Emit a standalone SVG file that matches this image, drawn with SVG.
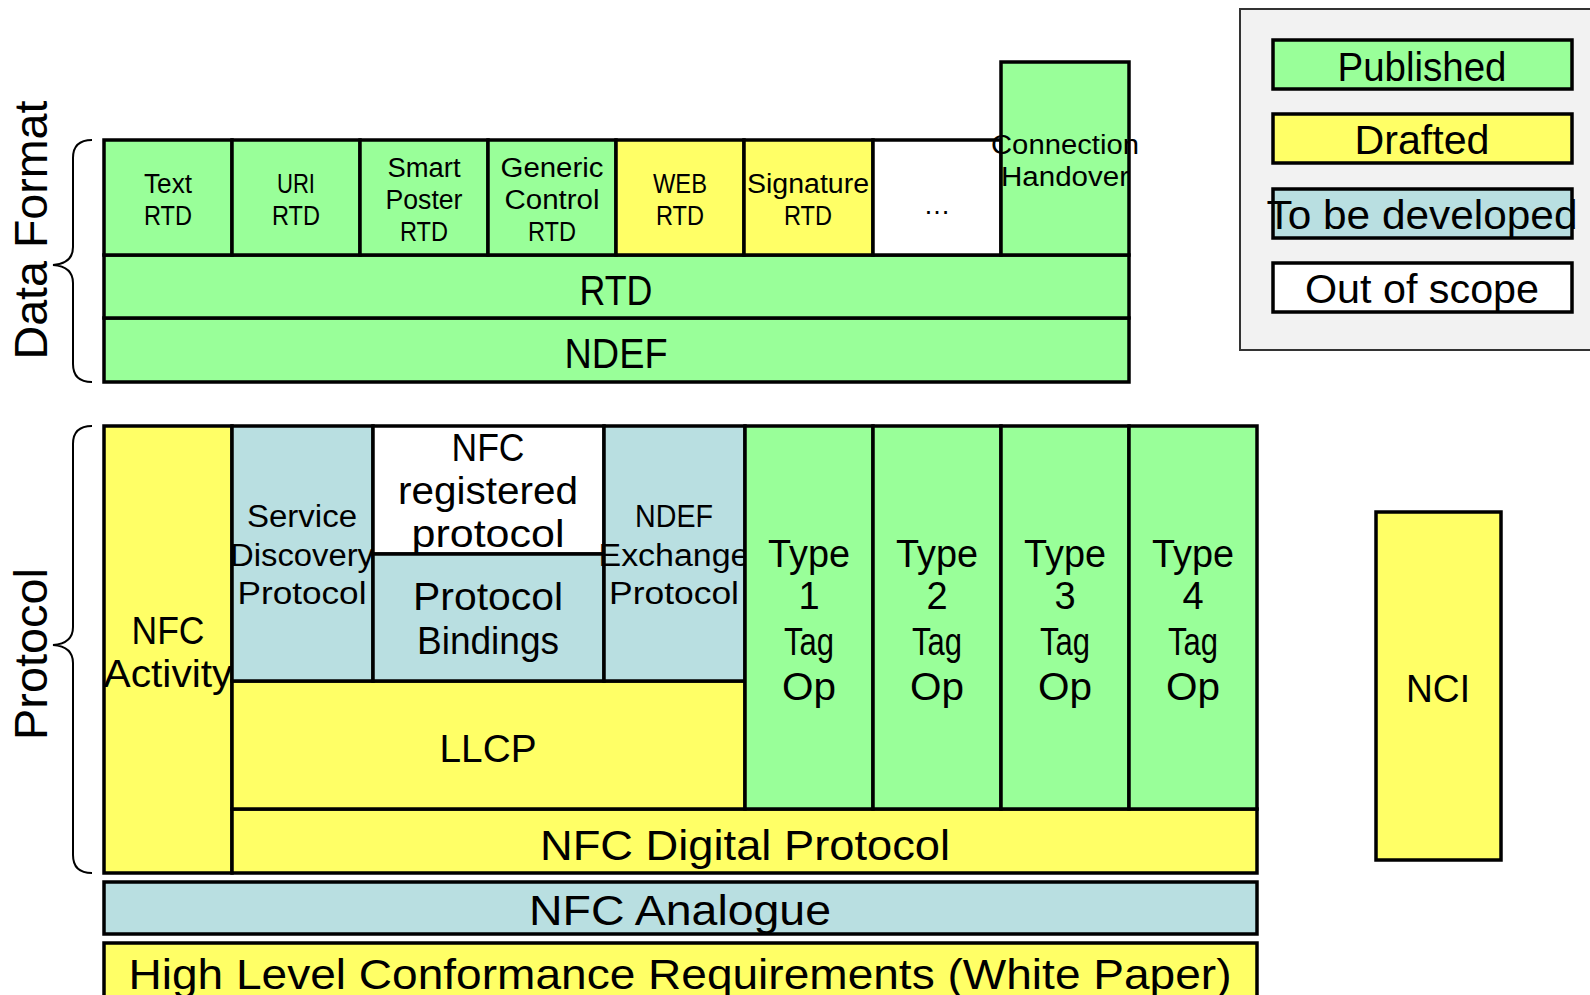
<svg xmlns="http://www.w3.org/2000/svg" width="1590" height="995" viewBox="0 0 1590 995">
<style>
.bx{stroke:#000;stroke-width:3.5}
.g{fill:#99ff99}.y{fill:#ffff66}.b{fill:#b9dfe1}.w{fill:#ffffff}
text{font-family:"Liberation Sans","DejaVu Sans",sans-serif;fill:#000;text-anchor:middle}
.s{font-size:27px}.m{font-size:31px}.l{font-size:38px}.xl{font-size:43px}.lg{font-size:41px}
.br{fill:none;stroke:#000;stroke-width:2}
</style>
<rect width="1590" height="995" fill="#fff"/>

<g id="legend">
<rect x="1240" y="9" width="360" height="341" fill="#f2f2f2" stroke="#333" stroke-width="2"/>
<rect class="bx g" x="1273" y="40" width="299" height="49" stroke-width="4"/>
<text class="lg" x="1422" y="81" textLength="169" lengthAdjust="spacingAndGlyphs">Published</text>
<rect class="bx y" x="1273" y="114" width="299" height="49" stroke-width="4"/>
<text class="lg" x="1422" y="154" textLength="135" lengthAdjust="spacingAndGlyphs">Drafted</text>
<rect class="bx b" x="1273" y="189" width="299" height="49" stroke-width="4"/>
<text class="lg" x="1422" y="229" textLength="311" lengthAdjust="spacingAndGlyphs">To be developed</text>
<rect class="bx w" x="1273" y="263" width="299" height="49" stroke-width="4"/>
<text class="lg" x="1422" y="303" textLength="234" lengthAdjust="spacingAndGlyphs">Out of scope</text>
</g>

<g id="braces">
<path class="br" d="M92,140 C80,140 73,146 73,158 L73,247 C73,258 66,264 53,265 C66,266 73,272 73,283 L73,364 C73,376 80,382 92,382"/>
<path class="br" d="M92,426 C80,426 73,432 73,444 L73,627 C73,638 66,644 53,645 C66,646 73,652 73,663 L73,855 C73,867 80,873 92,873"/>
<text x="47" y="230" font-size="46" transform="rotate(-90 47 230)" textLength="259" lengthAdjust="spacingAndGlyphs">Data Format</text>
<text x="47" y="654" font-size="46" transform="rotate(-90 47 654)" textLength="172" lengthAdjust="spacingAndGlyphs">Protocol</text>
</g>

<g id="ndef"><rect class="bx g" x="104" y="318" width="1025" height="64"/>
<text class="xl" x="616" y="368" textLength="103" lengthAdjust="spacingAndGlyphs">NDEF</text></g>
<g id="rtd"><rect class="bx g" x="104" y="255" width="1025" height="63"/>
<text class="xl" x="616" y="305" textLength="73" lengthAdjust="spacingAndGlyphs">RTD</text></g>

<g id="text-rtd"><rect class="bx g" x="104" y="140" width="128" height="115"/>
<text class="s" x="168" y="193" textLength="48" lengthAdjust="spacingAndGlyphs">Text</text>
<text class="s" x="168" y="225" textLength="48" lengthAdjust="spacingAndGlyphs">RTD</text></g>
<g id="uri-rtd"><rect class="bx g" x="232" y="140" width="128" height="115"/>
<text class="s" x="296" y="193" textLength="38" lengthAdjust="spacingAndGlyphs">URI</text>
<text class="s" x="296" y="225" textLength="48" lengthAdjust="spacingAndGlyphs">RTD</text></g>
<g id="smart-poster"><rect class="bx g" x="360" y="140" width="128" height="115"/>
<text class="s" x="424" y="177" textLength="73" lengthAdjust="spacingAndGlyphs">Smart</text>
<text class="s" x="424" y="209" textLength="77" lengthAdjust="spacingAndGlyphs">Poster</text>
<text class="s" x="424" y="241" textLength="48" lengthAdjust="spacingAndGlyphs">RTD</text></g>
<g id="generic-control"><rect class="bx g" x="488" y="140" width="128" height="115"/>
<text class="s" x="552" y="177" textLength="103" lengthAdjust="spacingAndGlyphs">Generic</text>
<text class="s" x="552" y="209" textLength="95" lengthAdjust="spacingAndGlyphs">Control</text>
<text class="s" x="552" y="241" textLength="48" lengthAdjust="spacingAndGlyphs">RTD</text></g>
<g id="web-rtd"><rect class="bx y" x="616" y="140" width="128" height="115"/>
<text class="s" x="680" y="193" textLength="54" lengthAdjust="spacingAndGlyphs">WEB</text>
<text class="s" x="680" y="225" textLength="48" lengthAdjust="spacingAndGlyphs">RTD</text></g>
<g id="signature-rtd"><rect class="bx y" x="744" y="140" width="129" height="115"/>
<text class="s" x="808" y="193" textLength="122" lengthAdjust="spacingAndGlyphs">Signature</text>
<text class="s" x="808" y="225" textLength="48" lengthAdjust="spacingAndGlyphs">RTD</text></g>
<g id="etc"><rect class="bx w" x="873" y="140" width="128" height="115"/>
<text class="s" x="937" y="214">…</text></g>
<g id="connection-handover"><rect class="bx g" x="1001" y="62" width="128" height="193"/>
<text class="s" x="1065" y="154" textLength="148" lengthAdjust="spacingAndGlyphs">Connection</text>
<text class="s" x="1065" y="186" textLength="128" lengthAdjust="spacingAndGlyphs">Handover</text></g>

<g id="nfc-activity"><rect class="bx y" x="104" y="426" width="128" height="447"/>
<text class="l" x="168" y="644" textLength="73" lengthAdjust="spacingAndGlyphs">NFC</text>
<text class="l" x="168" y="687" textLength="129" lengthAdjust="spacingAndGlyphs">Activity</text></g>
<g id="nfc-digital"><rect class="bx y" x="232" y="809" width="1025" height="64"/>
<text class="xl" x="745" y="860" textLength="410" lengthAdjust="spacingAndGlyphs">NFC Digital Protocol</text></g>
<g id="llcp"><rect class="bx y" x="232" y="681" width="513" height="128"/>
<text class="l" x="488" y="762" textLength="97" lengthAdjust="spacingAndGlyphs">LLCP</text></g>
<g id="sdp"><rect class="bx b" x="232" y="426" width="141" height="255"/>
<text class="m" x="302" y="527" textLength="110" lengthAdjust="spacingAndGlyphs">Service</text>
<text class="m" x="302" y="566" textLength="144" lengthAdjust="spacingAndGlyphs">Discovery</text>
<text class="m" x="302" y="604" textLength="129" lengthAdjust="spacingAndGlyphs">Protocol</text></g>
<g id="nfc-registered"><rect class="bx w" x="373" y="426" width="231" height="128"/>
<text class="l" x="488" y="461" textLength="73" lengthAdjust="spacingAndGlyphs">NFC</text>
<text class="l" x="488" y="504" textLength="180" lengthAdjust="spacingAndGlyphs">registered</text>
<text class="l" x="488" y="547" textLength="153" lengthAdjust="spacingAndGlyphs">protocol</text></g>
<g id="protocol-bindings"><rect class="bx b" x="373" y="554" width="231" height="127"/>
<text class="l" x="488" y="610" textLength="150" lengthAdjust="spacingAndGlyphs">Protocol</text>
<text class="l" x="488" y="654" textLength="142" lengthAdjust="spacingAndGlyphs">Bindings</text></g>
<g id="ndef-exchange"><rect class="bx b" x="604" y="426" width="141" height="255"/>
<text class="m" x="674" y="527" textLength="78" lengthAdjust="spacingAndGlyphs">NDEF</text>
<text class="m" x="674" y="566" textLength="151" lengthAdjust="spacingAndGlyphs">Exchange</text>
<text class="m" x="674" y="604" textLength="130" lengthAdjust="spacingAndGlyphs">Protocol</text></g>

<g id="type1"><rect class="bx g" x="745" y="426" width="128" height="383"/>
<text class="l" x="809" y="567" textLength="82" lengthAdjust="spacingAndGlyphs">Type</text>
<text class="l" x="809" y="609">1</text>
<text class="l" x="809" y="655" textLength="50" lengthAdjust="spacingAndGlyphs">Tag</text>
<text class="l" x="809" y="700" textLength="54" lengthAdjust="spacingAndGlyphs">Op</text></g>
<g id="type2"><rect class="bx g" x="873" y="426" width="128" height="383"/>
<text class="l" x="937" y="567" textLength="82" lengthAdjust="spacingAndGlyphs">Type</text>
<text class="l" x="937" y="609">2</text>
<text class="l" x="937" y="655" textLength="50" lengthAdjust="spacingAndGlyphs">Tag</text>
<text class="l" x="937" y="700" textLength="54" lengthAdjust="spacingAndGlyphs">Op</text></g>
<g id="type3"><rect class="bx g" x="1001" y="426" width="128" height="383"/>
<text class="l" x="1065" y="567" textLength="82" lengthAdjust="spacingAndGlyphs">Type</text>
<text class="l" x="1065" y="609">3</text>
<text class="l" x="1065" y="655" textLength="50" lengthAdjust="spacingAndGlyphs">Tag</text>
<text class="l" x="1065" y="700" textLength="54" lengthAdjust="spacingAndGlyphs">Op</text></g>
<g id="type4"><rect class="bx g" x="1129" y="426" width="128" height="383"/>
<text class="l" x="1193" y="567" textLength="82" lengthAdjust="spacingAndGlyphs">Type</text>
<text class="l" x="1193" y="609">4</text>
<text class="l" x="1193" y="655" textLength="50" lengthAdjust="spacingAndGlyphs">Tag</text>
<text class="l" x="1193" y="700" textLength="54" lengthAdjust="spacingAndGlyphs">Op</text></g>

<g id="nfc-analogue"><rect class="bx b" x="104" y="882" width="1153" height="52" stroke-width="4"/>
<text class="xl" x="680" y="925" textLength="302" lengthAdjust="spacingAndGlyphs">NFC Analogue</text></g>
<g id="conformance"><rect class="bx y" x="104" y="943" width="1153" height="70" stroke-width="4"/>
<text class="xl" x="680" y="989" textLength="1103" lengthAdjust="spacingAndGlyphs">High Level Conformance Requirements (White Paper)</text></g>
<g id="nci"><rect class="bx y" x="1376" y="512" width="125" height="348" stroke-width="4"/>
<text class="l" x="1438" y="702" textLength="64" lengthAdjust="spacingAndGlyphs">NCI</text></g>
<g id="connectors"/>
</svg>
